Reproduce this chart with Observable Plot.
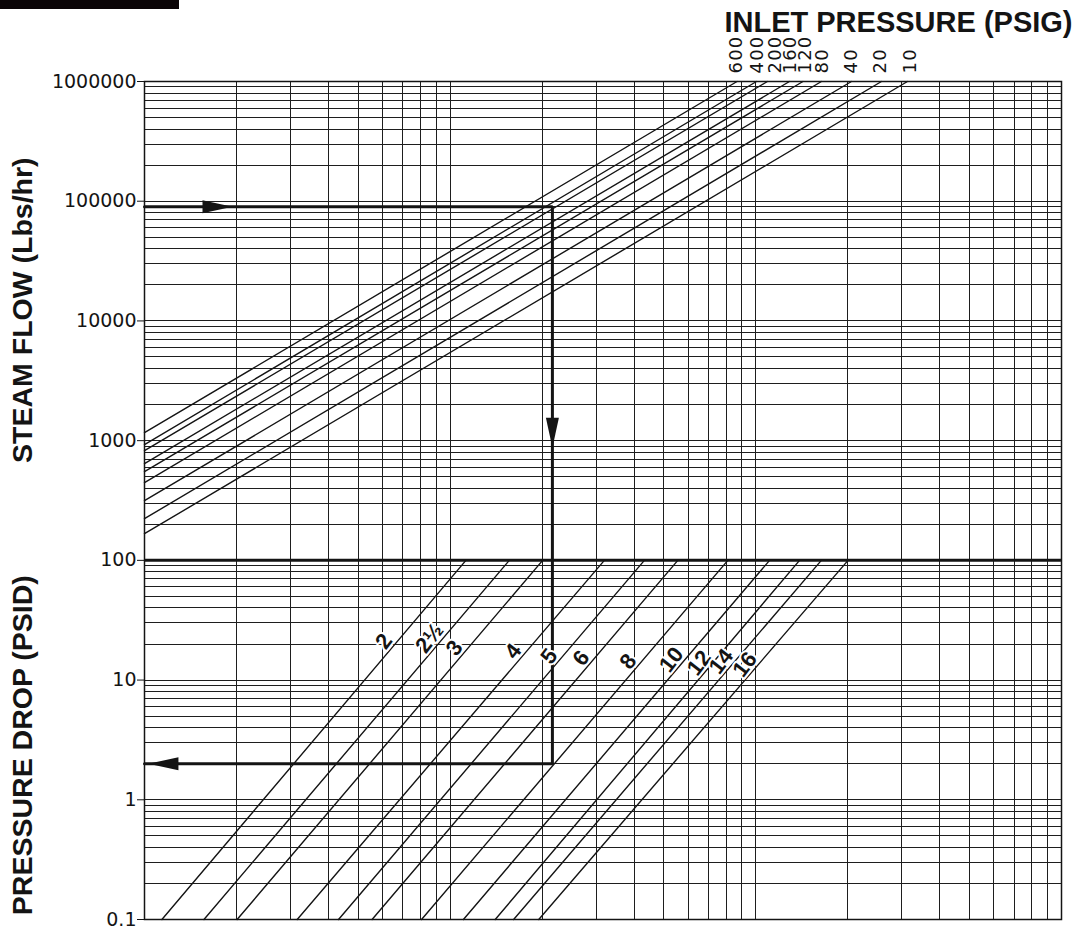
<!DOCTYPE html>
<html>
<head>
<meta charset="utf-8">
<script src="https://cdn.jsdelivr.net/npm/d3@7"></script>
<script src="https://cdn.jsdelivr.net/npm/@observablehq/plot@0.6"></script>
<style>
  body { margin: 0; background: #fff; }
  #wrap { position: relative; width: 1077px; height: 928px; }
  #bar { position: absolute; left: 0; top: 0; width: 179px; height: 9px; background: #0a0406; }
</style>
</head>
<body>
<div id="wrap"><div id="chart"></div><div id="bar"></div></div>
<script>
// ---- Data ----
// Inlet pressure lines (upper chart): flow at the left edge (x = 1) and x where each reaches 1,000,000
const pressures   = ["600", "400", "200", "160", "120", "80", "40", "20", "10"];
const flowAtLeft  = [1166, 926, 825, 643, 551, 446, 315, 223, 167];
const xAtTopEdge  = [86.8, 100.5, 109.1, 128.8, 142.6, 163.9, 205.5, 257.6, 313.3];
const pressureLabelX = [86.3, 101.3, 116, 129.8, 145.3, 165.3, 205, 255.7, 320.6];

// Valve size lines (lower chart): x at 0.1 psid and x at 100 psid
const sizes       = ["2", "2½", "3", "4", "5", "6", "8", "10", "12", "14", "16"];
const xAtLowDrop  = [1.14, 1.565, 2.009, 3.159, 4.313, 5.553, 8.06, 11.05, 14.04, 16.13, 19.49];
const xAtHighDrop = [11.26, 15.61, 20.07, 31.95, 43.19, 55.56, 81.0, 110.9, 139.0, 163.8, 200.3];
const sizeLabelDrop = [21.1, 22.4, 18.5, 17.4, 15.8, 15.3, 14.3, 14.8, 13.9, 14.3, 13.5];

// Axis ticks
const yTicks = [0.1, 1, 10, 100, 1000, 10000, 100000, 1000000];

// Worked example
const exampleFlow = 90000;
const exampleX = 21.6;
const exampleDrop = 2;
const arrowTips = [
  {x: 1.94, y: 90000, angle: 90},
  {x: 21.6, y: 874, angle: 180},
  {x: 1.03, y: 2, angle: 270}
];

// ---- Build tables ----
const pressureLines = pressures.flatMap((p, i) => [
  {p, x: 1, y: flowAtLeft[i]},
  {p, x: xAtTopEdge[i], y: 1000000}
]);
const sizeLines = sizes.flatMap((s, i) => [
  {s, x: xAtLowDrop[i], y: 0.1},
  {s, x: xAtHighDrop[i], y: 100}
]);
const sizeLabels = sizes.map((s, i) => {
  const k = Math.log(xAtHighDrop[i] / xAtLowDrop[i]) / Math.log(1000);
  return {s, y: sizeLabelDrop[i], x: xAtLowDrop[i] * Math.pow(sizeLabelDrop[i] / 0.1, k)};
});
const pressureLabels = pressures.map((p, i) => ({p, x: pressureLabelX[i], y: 1000000}));
const examplePath = [
  {x: 1, y: exampleFlow},
  {x: exampleX, y: exampleFlow},
  {x: exampleX, y: exampleDrop},
  {x: 1, y: exampleDrop}
];

const arrowHead = {
  draw(ctx) {
    const L = 30, w = 6.5;
    ctx.moveTo(0, 0);
    ctx.lineTo(w, L);
    ctx.lineTo(-w, L);
    ctx.closePath();
  }
};

const ink = "#141414";

const chart = Plot.plot({
  width: 1077,
  height: 928,
  marginTop: 81,
  marginBottom: 9,
  marginLeft: 144,
  marginRight: 16,
  style: {fontFamily: "DejaVu Sans", fontSize: "19px", color: ink, background: "#fff", overflow: "visible"},
  x: {type: "log", domain: [1, 1000], axis: null},
  y: {type: "log", domain: [0.1, 1000000], axis: null},
  marks: [
    Plot.gridX({ticks: 20, stroke: "#1e1e1e", strokeOpacity: 1, strokeWidth: 1, shapeRendering: "crispEdges"}),
    Plot.gridY({ticks: 80, stroke: "#1e1e1e", strokeOpacity: 1, strokeWidth: 1, shapeRendering: "crispEdges"}),
    Plot.frame({stroke: ink, strokeWidth: 1.5}),
    Plot.ruleY([100], {stroke: ink, strokeWidth: 3}),
    Plot.axisY(yTicks, {tickSize: 7, tickPadding: 1, tickFormat: d => String(d), label: null,
      fontSize: 19, fontFamily: "DejaVu Sans", stroke: ink}),
    Plot.line(pressureLines, {x: "x", y: "y", z: "p", stroke: ink, strokeWidth: 1.4}),
    Plot.line(sizeLines, {x: "x", y: "y", z: "s", stroke: ink, strokeWidth: 1.4}),
    Plot.line(examplePath, {x: "x", y: "y", stroke: ink, strokeWidth: 3, strokeLinejoin: "miter"}),
    Plot.dot(arrowTips, {x: "x", y: "y", rotate: "angle", symbol: arrowHead, fill: ink, stroke: "none", r: 5}),
    Plot.text(pressureLabels, {x: "x", y: "y", text: "p", rotate: -90, textAnchor: "start",
      dy: -8, fontSize: 18, fontFamily: "DejaVu Sans", fill: ink, className: "plabel"}),
    Plot.text(sizeLabels, {x: "x", y: "y", text: "s", rotate: -52, dx: -13.5,
      fontSize: 22, fontWeight: "bold", fontFamily: "Liberation Sans", fill: ink,
      stroke: "white", strokeWidth: 4}),
    Plot.text(["INLET PRESSURE (PSIG)"], {text: d => d, frameAnchor: "top-right", textAnchor: "end",
      lineAnchor: "bottom", dx: 11, dy: -50, fontSize: 29, fontWeight: "bold", fontFamily: "Liberation Sans", fill: ink}),
    Plot.text(["STEAM FLOW (Lbs/hr)"], {text: d => d, x: 1, y: 12300, dx: -122, rotate: -90,
      fontSize: 28.5, fontWeight: "bold", fontFamily: "Liberation Sans", fill: ink}),
    Plot.text(["PRESSURE DROP (PSID)"], {text: d => d, x: 1, y: 2.86, dx: -122, rotate: -90,
      fontSize: 28.5, fontWeight: "bold", fontFamily: "Liberation Sans", fill: ink})
  ]
});
d3.select(chart).selectAll(".plabel text").style("letter-spacing", "1.2px");
document.getElementById("chart").appendChild(chart);
</script>
</body>
</html>
